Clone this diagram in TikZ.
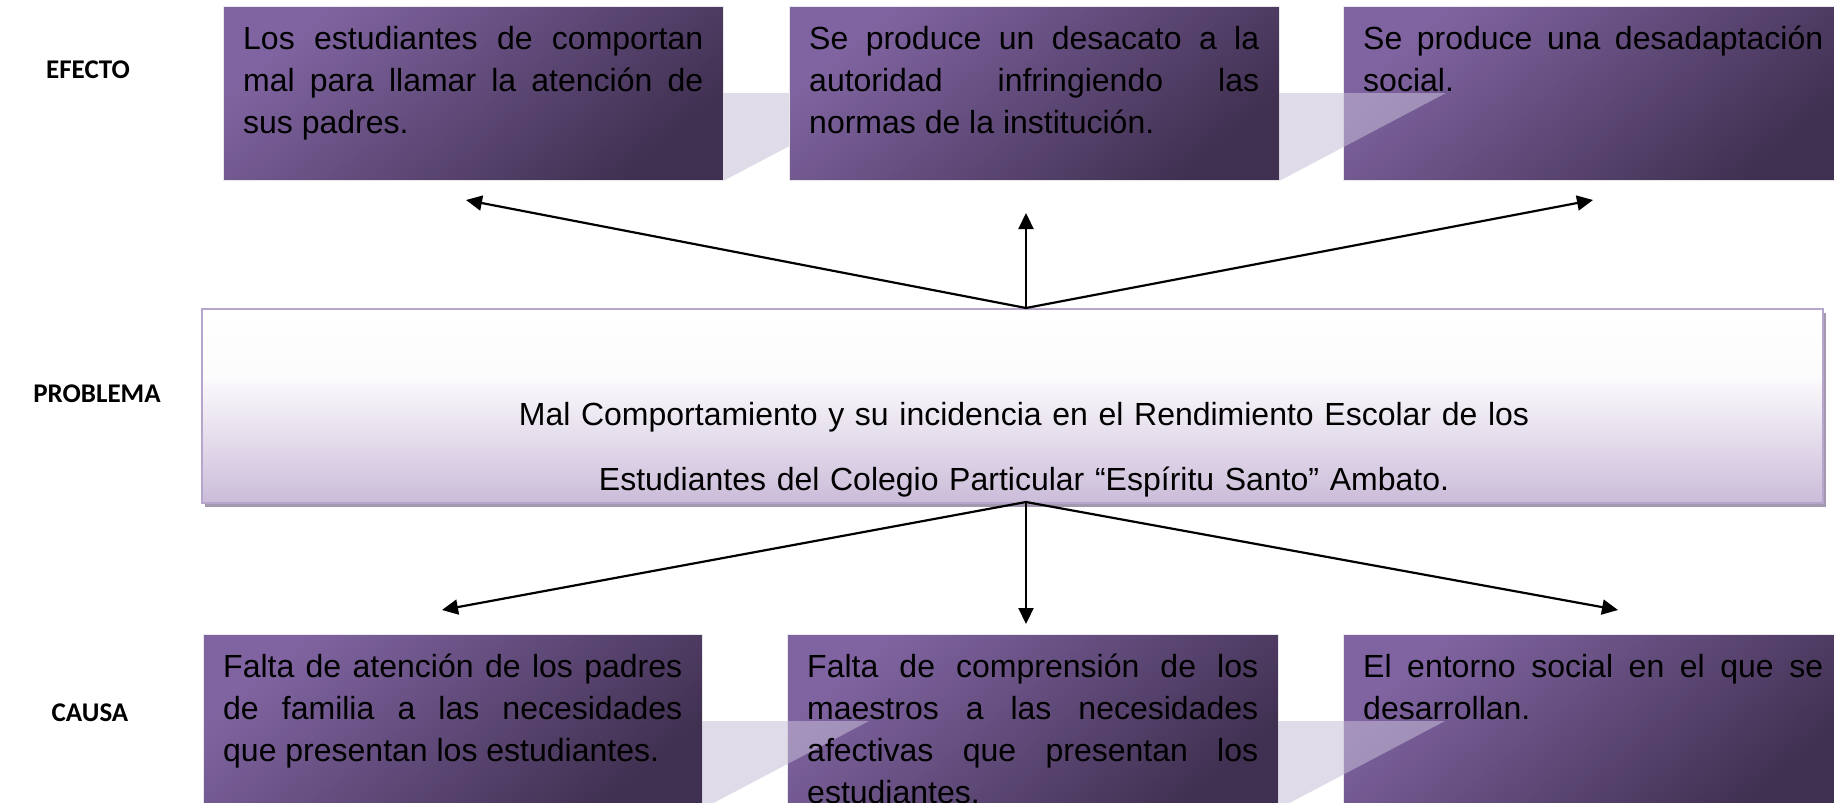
\documentclass[tikz,border=0pt]{standalone}
\usepackage{fontspec}
\setmainfont{Liberation Sans}
\newfontfamily\lblfont{Carlito}
\usetikzlibrary{arrows.meta,shadows}
\pgfdeclarelayer{bg}
\pgfdeclarelayer{mid}
\pgfsetlayers{bg,mid,main}
\definecolor{plight}{HTML}{8064A1}
\definecolor{pdark}{HTML}{403051}
\definecolor{conn}{HTML}{C6BDD7}
\definecolor{lav}{HTML}{CBBCD9}
\definecolor{pborder}{HTML}{B7A6CC}
\definecolor{pshadow}{HTML}{A398B0}
\definecolor{boxedge}{HTML}{E8E8E8}
\pgfdeclareverticalshading{probshade}{100bp}{color(0bp)=(lav); color(25bp)=(lav); color(58bp)=(white!95!lav); color(75bp)=(white); color(100bp)=(white)}
\hyphenpenalty=10000
\exhyphenpenalty=10000
\tolerance=10000
\hbadness=10000
\tikzset{
  pbox/.style={rectangle, anchor=north west, inner sep=0pt, minimum height=174pt,
    draw=boxedge, line width=1.2pt, top color=plight, bottom color=pdark, shading angle=40},
  btext/.style={anchor=base west, inner sep=0pt, align=justify,
    font=\fontsize{32}{42}\selectfont},
  connshape/.style={fill=conn, fill opacity=0.55, draw=none},
  arr/.style={draw=black, line width=2.2pt, -{Triangle[length=16pt,width=15pt]}},
  lbl/.style={font=\lblfont\bfseries\fontsize{27}{32}\selectfont, inner sep=0pt},
}
\begin{document}
\begin{tikzpicture}[x=1pt,y=-1pt]
\useasboundingbox (0,0) rectangle (1834,803);
\clip (0,0) rectangle (1834,803);

% ---------- top row (EFECTO) ----------
\begin{pgfonlayer}{bg}
\node[pbox, minimum width=500pt] (e1) at (223,6) {};
\fill[connshape, fill opacity=1, fill=conn!55!white] (723,93) -- (890,93) -- (725,180) -- (723,180) -- cycle;
\node[pbox, minimum width=490pt] (e2) at (789,6) {};
\node[pbox, minimum width=500pt] (e3) at (1343,6) {};
\end{pgfonlayer}
\begin{pgfonlayer}{mid}
\fill[connshape] (1279,93) -- (1446,93) -- (1281,180) -- (1279,180) -- cycle;
\end{pgfonlayer}
\node[btext, text width=460pt] (te1) at (243,49)
  {Los estudiantes de comportan\linebreak mal para llamar la atención de\linebreak sus padres.};
\node[btext, text width=450pt] (te2) at (809,49)
  {Se produce un desacato a la\linebreak autoridad infringiendo las\linebreak normas de la institución.};
\node[btext, text width=460pt] (te3) at (1363,49)
  {Se produce una desadaptación\linebreak social.};

% ---------- central problem ----------
\node[rectangle, anchor=north west, inner sep=0pt, minimum width=1621pt, minimum height=194pt,
  draw=pborder, line width=2pt, shading=probshade,
  drop shadow={shadow xshift=3pt, shadow yshift=-4pt, fill=pshadow, opacity=1}]
  (prob) at (201,308) {};
\node[anchor=base, inner sep=0pt, text width=1560pt, align=center,
  font=\fontsize{32}{65}\selectfont] (ptext) at (1024,425)
  {Mal Comportamiento y su incidencia en el Rendimiento Escolar de los\\
   Estudiantes del Colegio Particular “Espíritu Santo” Ambato.};

% ---------- bottom row (CAUSA) ----------
\begin{pgfonlayer}{bg}
\node[pbox, minimum width=499pt] (c1) at (203,634) {};
\node[pbox, minimum width=491pt] (c2) at (787,634) {};
\node[pbox, minimum width=500pt] (c3) at (1343,634) {};
\end{pgfonlayer}
\begin{pgfonlayer}{mid}
\fill[connshape] (702,721) -- (869,721) -- (704,808) -- (702,808) -- cycle;
\fill[connshape] (1278,721) -- (1445,721) -- (1280,808) -- (1278,808) -- cycle;
\end{pgfonlayer}
\node[btext, text width=459pt] (tc1) at (223,677)
  {Falta de atención de los padres\linebreak de familia a las necesidades\linebreak que presentan los estudiantes.};
\node[btext, text width=451pt] (tc2) at (807,677)
  {Falta de comprensión de los\linebreak maestros a las necesidades\linebreak afectivas que presentan los\linebreak estudiantes.};
\node[btext, text width=460pt] (tc3) at (1363,677)
  {El entorno social en el que se\linebreak desarrollan.};

% ---------- labels ----------
\node[lbl] (lefecto) at (88,70) {EFECTO};
\node[lbl] (lproblema) at (97,394) {PROBLEMA};
\node[lbl] (lcausa) at (90,713) {CAUSA};

% ---------- arrows ----------
\coordinate (ptop) at (1026,308);
\coordinate (pbot) at (1026,502);
\coordinate (at1) at (466,200);
\coordinate (at2) at (1026,213);
\coordinate (at3) at (1593,200);
\coordinate (ab1) at (442,610);
\coordinate (ab2) at (1026,624);
\coordinate (ab3) at (1618,610);
\draw[arr] (ptop) -- (at1);
\draw[arr] (ptop) -- (at2);
\draw[arr] (ptop) -- (at3);
\draw[arr] (pbot) -- (ab1);
\draw[arr] (pbot) -- (ab2);
\draw[arr] (pbot) -- (ab3);
\end{tikzpicture}
\end{document}
